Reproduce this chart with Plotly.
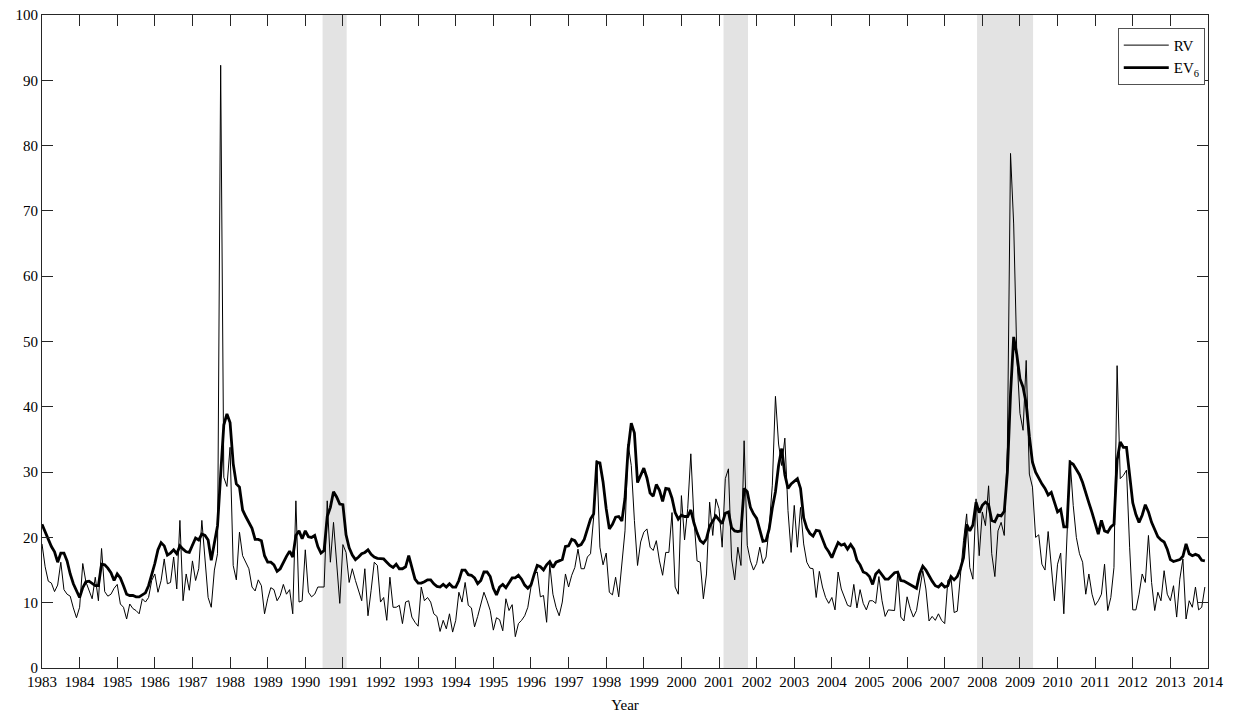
import numpy as np
import plotly.graph_objects as go

# Monthly series, January 1983 through December 2013 (one row per year)
rv_values = [
    19.0, 15.5, 13.3, 13.0, 11.7, 12.7, 16.2, 12.0, 11.3, 11.0, 9.2, 7.7,      # 1983
    9.3, 16.0, 13.2, 12.0, 10.6, 13.9, 10.3, 18.3, 11.7, 11.0, 11.3, 12.2,     # 1984
    12.8, 9.8, 9.3, 7.5, 9.8, 9.1, 8.8, 8.3, 10.6, 10.1, 10.8, 13.4,           # 1985
    14.4, 11.6, 13.4, 16.7, 12.9, 13.1, 17.0, 12.1, 22.6, 10.3, 14.4, 11.9,    # 1986
    16.4, 13.4, 15.2, 22.6, 16.4, 10.8, 9.3, 15.0, 17.5, 92.3, 29.2, 27.8,     # 1987
    33.8, 15.7, 13.5, 20.8, 17.2, 16.2, 15.2, 12.4, 11.8, 13.5, 12.6, 8.3,     # 1988
    10.6, 12.3, 12.0, 10.3, 11.1, 12.8, 11.3, 12.0, 8.3, 25.6, 10.1, 10.3,     # 1989
    18.1, 11.6, 10.9, 11.3, 12.4, 12.4, 12.4, 25.6, 16.2, 22.3, 16.4, 9.9,     # 1990
    18.9, 17.7, 13.1, 15.2, 13.4, 11.9, 10.3, 15.2, 8.0, 11.9, 16.2, 15.7,     # 1991
    10.1, 10.8, 7.3, 13.9, 9.3, 9.3, 9.6, 6.8, 10.1, 10.3, 7.8, 7.0,           # 1992
    6.4, 12.4, 10.3, 10.8, 10.1, 8.3, 7.9, 5.6, 7.3, 6.0, 8.3, 5.5,            # 1993
    7.3, 11.6, 10.1, 13.1, 9.6, 9.2, 6.3, 7.9, 9.7, 11.6, 10.3, 8.8,           # 1994
    5.8, 7.7, 7.4, 5.7, 10.6, 8.8, 9.7, 4.8, 6.8, 7.3, 8.0, 9.3,               # 1995
    12.4, 14.4, 14.7, 10.9, 11.1, 7.0, 15.9, 11.3, 9.3, 8.0, 10.1, 14.4,       # 1996
    12.4, 14.2, 15.4, 18.2, 15.2, 15.2, 17.0, 17.5, 23.1, 31.8, 18.5, 15.8,    # 1997
    17.6, 11.6, 11.2, 13.9, 10.9, 15.6, 21.0, 34.3, 31.0, 22.6, 15.7, 19.3,    # 1998
    20.8, 21.3, 18.5, 18.0, 19.5, 16.4, 14.2, 17.7, 17.7, 23.8, 12.4, 11.3,    # 1999
    26.4, 19.6, 24.4, 32.8, 22.8, 16.4, 16.2, 10.6, 14.4, 25.4, 20.3, 25.9,    # 2000
    24.4, 18.5, 29.0, 30.5, 16.7, 13.5, 18.5, 15.7, 34.8, 18.8, 16.4, 15.0,    # 2001
    16.0, 18.5, 16.0, 17.0, 21.6, 28.0, 41.6, 34.3, 31.0, 35.2, 24.1, 17.7,    # 2002
    24.9, 18.5, 24.6, 19.0, 16.2, 15.3, 15.2, 10.8, 14.8, 12.4, 10.8, 9.9,     # 2003
    10.8, 8.9, 14.7, 12.1, 10.8, 9.6, 9.4, 12.8, 9.2, 12.0, 9.9, 8.9,          # 2004
    10.3, 10.3, 9.9, 14.0, 10.3, 7.9, 8.9, 8.8, 8.8, 14.4, 7.8, 7.2,           # 2005
    10.9, 9.1, 7.8, 8.8, 12.1, 14.9, 12.1, 7.2, 7.9, 7.3, 8.3, 7.3,            # 2006
    6.8, 13.4, 13.9, 8.5, 8.7, 14.4, 19.5, 23.6, 15.4, 13.6, 25.9, 17.2,       # 2007
    23.9, 21.8, 27.9, 17.5, 14.0, 21.0, 22.3, 20.3, 33.8, 78.8, 68.0, 48.0,    # 2008
    39.0, 36.4, 47.1, 29.7, 27.7, 20.0, 20.4, 15.9, 15.0, 20.9, 15.2, 10.3,    # 2009
    15.9, 17.6, 8.3, 21.6, 31.8, 24.9, 20.0, 17.5, 16.2, 11.3, 14.4, 11.3,     # 2010
    9.6, 10.3, 11.3, 15.9, 8.8, 10.8, 15.4, 46.3, 29.0, 29.5, 30.3, 18.5,      # 2011
    8.9, 8.9, 11.3, 14.4, 13.1, 20.3, 13.1, 8.8, 11.6, 10.3, 14.9, 11.3,       # 2012
    10.3, 12.6, 7.8, 13.6, 16.7, 7.5, 10.3, 9.3, 12.4, 8.9, 9.3, 12.4,         # 2013
]

ev6_values = [
    22.0, 20.8, 19.7, 18.6, 17.8, 16.2, 17.6, 17.6, 16.4, 14.4, 12.9, 11.9,    # 1983
    10.8, 12.3, 13.2, 13.3, 13.0, 12.6, 12.6, 15.9, 15.8, 15.3, 14.6, 13.4,    # 1984
    14.4, 13.8, 12.6, 11.3, 11.1, 11.1, 10.9, 10.9, 11.2, 11.5, 12.6, 14.2,    # 1985
    16.0, 18.1, 19.2, 18.7, 17.3, 17.6, 18.1, 17.5, 18.7, 18.2, 17.8, 17.7,    # 1986
    18.8, 19.9, 19.6, 20.5, 20.3, 19.6, 16.5, 18.9, 21.8, 29.6, 37.2, 38.9,    # 1987
    37.6, 31.3, 28.2, 27.7, 24.2, 23.2, 22.4, 21.4, 19.7, 19.7, 19.5, 17.2,    # 1988
    16.2, 16.2, 15.8, 14.8, 15.2, 16.2, 17.1, 17.9, 17.0, 20.3, 21.0, 19.8,    # 1989
    21.0, 20.1, 20.0, 20.3, 18.6, 17.6, 18.0, 23.2, 24.6, 27.0, 26.2, 25.1,    # 1990
    25.0, 20.4, 18.4, 17.3, 16.6, 17.0, 17.5, 17.7, 18.1, 17.4, 17.0, 16.8,    # 1991
    16.8, 16.7, 16.2, 15.7, 15.4, 15.9, 15.2, 15.2, 15.5, 17.2, 15.4, 13.6,    # 1992
    13.0, 13.0, 13.2, 13.5, 13.5, 12.9, 12.5, 12.4, 12.8, 12.4, 12.9, 12.4,    # 1993
    12.4, 13.4, 15.0, 15.0, 14.3, 14.2, 13.8, 12.9, 13.4, 14.7, 14.7, 14.0,    # 1994
    12.2, 11.2, 12.4, 12.8, 12.3, 13.0, 13.8, 13.8, 14.2, 13.6, 12.7, 12.2,    # 1995
    12.7, 14.3, 15.7, 15.5, 15.0, 15.8, 16.3, 15.4, 16.2, 16.4, 16.6, 18.6,    # 1996
    18.7, 19.7, 19.5, 18.7, 18.9, 19.7, 21.2, 22.8, 23.6, 31.5, 31.4, 28.5,    # 1997
    24.4, 21.3, 22.0, 23.1, 23.2, 22.5, 26.0, 33.5, 37.5, 36.0, 28.4, 29.4,    # 1998
    30.6, 29.1, 26.8, 26.3, 28.1, 27.2, 25.5, 27.5, 27.4, 26.0, 23.8, 22.8,    # 1999
    23.4, 23.2, 23.2, 24.2, 22.2, 20.7, 19.5, 19.1, 19.8, 21.7, 22.5, 23.3,    # 2000
    22.7, 22.1, 23.7, 23.9, 21.5, 21.0, 20.9, 21.0, 27.5, 27.0, 24.6, 23.6,    # 2001
    22.9, 21.3, 19.4, 19.5, 21.3, 24.5, 27.0, 31.0, 33.6, 29.6, 27.5, 28.2,    # 2002
    28.6, 29.0, 27.5, 23.0, 21.4, 20.6, 20.2, 21.1, 21.0, 19.7, 18.5, 17.8,    # 2003
    16.9, 18.1, 19.2, 18.8, 19.0, 18.2, 18.9, 18.2, 16.5, 15.8, 14.7, 14.5,    # 2004
    14.0, 12.8, 14.4, 14.9, 14.2, 13.6, 13.6, 14.1, 14.6, 14.7, 13.4, 13.3,    # 2005
    13.0, 12.7, 12.5, 12.2, 14.4, 15.6, 15.0, 14.1, 13.3, 12.6, 12.4, 12.9,    # 2006
    12.4, 12.6, 14.0, 13.5, 14.0, 15.2, 16.9, 22.0, 21.0, 21.9, 25.4, 23.8,    # 2007
    24.9, 25.4, 25.0, 22.6, 22.4, 23.4, 23.3, 24.0, 30.0, 42.0, 50.7, 48.0,    # 2008
    44.3, 43.0, 40.5, 35.5, 31.5, 30.0, 29.0, 28.2, 27.5, 26.5, 26.9, 25.4,    # 2009
    23.9, 24.3, 21.6, 21.6, 31.5, 31.2, 30.5, 29.6, 28.4, 27.0, 25.3, 23.8,    # 2010
    22.2, 20.5, 22.6, 21.0, 20.8, 21.6, 22.0, 31.8, 34.6, 33.8, 33.8, 30.0,    # 2011
    25.3, 23.5, 22.3, 23.4, 25.0, 23.9, 22.3, 21.2, 20.1, 19.6, 19.3, 18.2,    # 2012
    16.6, 16.3, 16.4, 16.6, 17.1, 19.0, 17.5, 17.2, 17.4, 17.2, 16.5, 16.4,    # 2013
]

# Recession periods (decimal years)
recession_start = [1990.46, 2001.12, 2007.86]
recession_end = [1991.10, 2001.77, 2009.35]

year_ticks = list(range(1983, 2015))
y_ticks = list(range(0, 101, 10))

dates = 1983 + np.arange(len(rv_values)) / 12.0

FONT = "Liberation Serif, Times New Roman, serif"
AXIS_COLOR = "#262626"
TICK_SIZE = 15

fig = go.Figure()

fig.add_trace(go.Scatter(
    x=dates, y=rv_values, mode="lines", name="RV",
    line=dict(color="black", width=1.0),
))
fig.add_trace(go.Scatter(
    x=dates, y=ev6_values, mode="lines", name="EV<sub>6</sub>",
    line=dict(color="black", width=2.8),
))

for x0, x1 in zip(recession_start, recession_end):
    fig.add_shape(
        type="rect", xref="x", yref="y", x0=x0, x1=x1, y0=0, y1=100,
        fillcolor="#e3e3e3", line=dict(width=0), layer="below",
    )

axis_common = dict(
    showline=True, linecolor=AXIS_COLOR, linewidth=1, mirror="ticks",
    ticks="inside", ticklen=11, tickwidth=0.8, tickcolor=AXIS_COLOR,
    showgrid=False, zeroline=False, automargin=False,
    tickfont=dict(family=FONT, size=TICK_SIZE, color="black"),
)

fig.update_xaxes(
    range=[1983, 2014], tickmode="array", tickvals=year_ticks,
    ticktext=[str(y) for y in year_ticks],
    title=dict(text="Year", font=dict(family=FONT, size=TICK_SIZE, color="black"), standoff=10),
    **axis_common,
)
fig.update_yaxes(
    range=[0, 100], tickmode="array", tickvals=y_ticks,
    ticktext=[str(v) for v in y_ticks],
    **axis_common,
)

fig.update_layout(
    width=1235, height=719,
    margin=dict(l=42, r=27, t=15, b=51),
    paper_bgcolor="white", plot_bgcolor="white",
    font=dict(family=FONT, size=TICK_SIZE, color="black"),
    showlegend=True,
    legend=dict(
        x=0.9974, y=0.98, xanchor="right", yanchor="top",
        bgcolor="white", bordercolor=AXIS_COLOR, borderwidth=0.8,
        font=dict(family=FONT, size=TICK_SIZE, color="black"),
        tracegroupgap=0, itemwidth=45,
    ),
)

fig.write_html("out.html")
